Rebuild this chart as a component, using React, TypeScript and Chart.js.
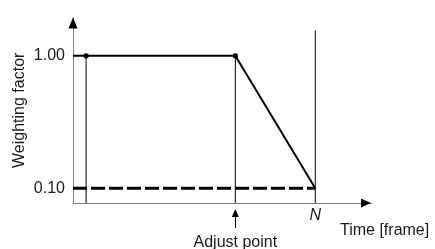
import { useEffect, useRef } from 'react';
import { Chart, registerables } from 'chart.js';

Chart.register(...registerables);

// ---- data ----
const N_FRAME = 100;
const X_MAX = 123;
const Y_MAX = 1.26;
const FIRST_X = 5.4;
const ADJUST_X = 67;

const Y_TICKS = [0.1, 1.0];
const X_TICKS = [N_FRAME];
const X_TICK_LABELS = ['N'];

const weightX = [0, FIRST_X, ADJUST_X, N_FRAME];
const weightY = [1.0, 1.0, 1.0, 0.1];
const markerR = [0, 2.7, 2.7, 0];

const floorX = [0, N_FRAME];
const floorY = [0.1, 0.1];

const guideX = [FIRST_X, ADJUST_X, N_FRAME];
const guideTop = [1.0, 1.0, 1.173];
const guideBottom = [0, 0, 0];

const FONT = "'Liberation Sans', Arial, sans-serif";
const TEXT = '#1a1a1a';
const AXIS = '#808080';

function tri(ctx: CanvasRenderingContext2D, a: number[], b: number[], c: number[]) {
  ctx.beginPath();
  ctx.moveTo(a[0], a[1]);
  ctx.lineTo(b[0], b[1]);
  ctx.lineTo(c[0], c[1]);
  ctx.closePath();
  ctx.fill();
}

const annotations = {
  id: 'annotations',
  afterDraw(chart: any) {
    const { ctx } = chart;
    const x = chart.scales.x;
    const y = chart.scales.y;
    const left = x.getPixelForValue(0);
    const right = x.getPixelForValue(X_MAX);
    const bottom = y.getPixelForValue(0);
    const top = y.getPixelForValue(Y_MAX);
    ctx.save();
    ctx.fillStyle = '#000';
    tri(ctx, [left, top], [left - 4.5, top + 11], [left + 4.5, top + 11]);
    tri(ctx, [right, bottom], [right - 10, bottom - 4.5], [right - 10, bottom + 4.5]);
    const ax = x.getPixelForValue(ADJUST_X);
    tri(ctx, [ax, bottom + 6], [ax - 3.5, bottom + 14], [ax + 3.5, bottom + 14]);
    ctx.strokeStyle = '#000';
    ctx.lineWidth = 1;
    ctx.beginPath();
    ctx.moveTo(Math.round(ax) + 0.5, bottom + 12);
    ctx.lineTo(Math.round(ax) + 0.5, bottom + 25);
    ctx.stroke();
    ctx.fillStyle = TEXT;
    ctx.font = `16px ${FONT}`;
    ctx.textBaseline = 'alphabetic';
    ctx.textAlign = 'center';
    ctx.fillText('Adjust point', ax, bottom + 44);
    ctx.textAlign = 'left';
    ctx.fillText('Time [frame]', right - 31, bottom + 32);
    ctx.restore();
  },
};

export default function App() {
  const ref = useRef<HTMLCanvasElement>(null);
  useEffect(() => {
    if (!ref.current) return;
    const pts = (xs: number[], ys: number[]) => xs.map((v, i) => ({ x: v, y: ys[i] }));
    const guides = guideX.map((gx, i) => ({
      data: [
        { x: gx, y: guideBottom[i] },
        { x: gx, y: guideTop[i] },
      ],
      borderColor: '#000',
      borderWidth: 1,
      pointRadius: 0,
      showLine: true,
    }));
    const chart = new Chart(ref.current, {
      type: 'scatter',
      data: {
        datasets: [
          ...guides,
          {
            data: pts(floorX, floorY),
            borderColor: '#000',
            borderWidth: 3,
            borderDash: [14, 4],
            borderCapStyle: 'butt',
            pointRadius: 0,
            showLine: true,
          },
          {
            data: pts(weightX, weightY),
            borderColor: '#000',
            backgroundColor: '#000',
            borderWidth: 2,
            pointRadius: markerR,
            pointBorderWidth: 0,
            pointStyle: 'circle',
            showLine: true,
          },
        ] as any,
      },
      options: {
        responsive: false,
        animation: false,
        events: [],
        layout: { padding: { left: 0, top: 14, right: 64, bottom: 0 } },
        plugins: { legend: { display: false }, tooltip: { enabled: false } },
        scales: {
          x: {
            type: 'linear',
            min: 0,
            max: X_MAX,
            grid: { display: false, drawTicks: false },
            border: { display: true, color: AXIS, width: 1 },
            afterBuildTicks: (s: any) => {
              s.ticks = X_TICKS.map((v) => ({ value: v }));
            },
            afterFit: (s: any) => {
              s.height = 46;
            },
            ticks: {
              autoSkip: false,
              maxRotation: 0,
              padding: 3,
              color: TEXT,
              font: { family: FONT, size: 16, style: 'italic' },
              callback: (v: any) => {
                const i = X_TICKS.indexOf(Number(v));
                return i >= 0 ? X_TICK_LABELS[i] : '';
              },
            },
          },
          y: {
            type: 'linear',
            min: 0,
            max: Y_MAX,
            grid: { display: false, drawTicks: false },
            border: { display: true, color: AXIS, width: 1 },
            afterBuildTicks: (s: any) => {
              s.ticks = Y_TICKS.map((v) => ({ value: v }));
            },
            afterFit: (s: any) => {
              s.width = 73;
            },
            title: {
              display: true,
              text: 'Weighting factor',
              color: TEXT,
              font: { family: FONT, size: 16 },
              padding: { top: 10, bottom: 0 },
            },
            ticks: {
              autoSkip: false,
              padding: 8,
              color: TEXT,
              font: { family: FONT, size: 16 },
              callback: (v: any) => Number(v).toFixed(2),
            },
          },
        },
      },
      plugins: [annotations],
    } as any);
    return () => chart.destroy();
  }, []);
  return (
    <div style={{ position: 'fixed', left: 0, top: 0, width: 435, height: 249, background: '#fff' }}>
      <canvas ref={ref} width={435} height={249} style={{ display: 'block' }} />
    </div>
  );
}
